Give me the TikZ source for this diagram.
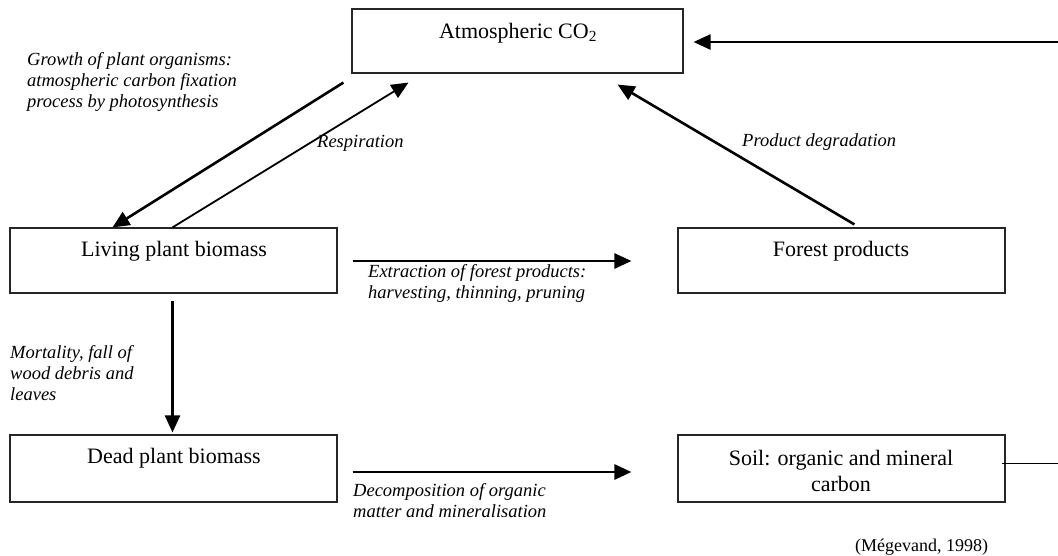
\documentclass[tikz,border=0pt]{standalone}
\usepackage{fontspec}
\setmainfont{Liberation Serif}
\usetikzlibrary{arrows.meta,calc}
\tikzset{
  box/.style={draw=black!85, line width=1.1pt, rectangle, inner sep=0pt},
  boxtxt/.style={font=\fontsize{22}{26}\selectfont, inner sep=0pt, align=center},
  lbl/.style={font=\fontsize{18.5}{21}\selectfont\itshape, inner sep=0pt, align=left, anchor=west},
  flow/.style={line width=2.6pt, -{Triangle[length=17pt,width=15pt]}},
  thinflow/.style={line width=1.8pt, -{Triangle[length=17pt,width=15pt]}},
}
\begin{document}
\begin{tikzpicture}[x=1pt,y=-1pt]
\useasboundingbox (0,0) rectangle (1058,556);
% boxes
\node[box, minimum width=331pt, minimum height=64pt] (atm) at (517.5,41) {};
\node[box, minimum width=327pt, minimum height=65pt] (living) at (173.5,260.5) {};
\node[box, minimum width=327pt, minimum height=65pt] (forest) at (841.5,260.5) {};
\node[box, minimum width=327pt, minimum height=67pt] (dead) at (173.5,468.5) {};
\node[box, minimum width=327pt, minimum height=67pt] (soil) at (841.5,468.5) {};
% box texts
\node[boxtxt] (atmt) at (518,33) {Atmospheric CO\textsubscript{2}};
\node[boxtxt] (livingt) at (174,251) {Living plant biomass};
\node[boxtxt] (forestt) at (841,251) {Forest products};
\node[boxtxt] (deadt) at (174,458) {Dead plant biomass};
\node[boxtxt] (soilt) at (841,471) {Soil: organic and mineral\\carbon};
% free ends
\coordinate (edgeTop) at (1058,42);
\coordinate (edgeSoil) at (1058,463);
% connectors
\draw[flow] ($(atm.south west)+(-8,9)$) -- ($(living.north west)+(103,0)$);
\draw[thinflow] ($(living.north west)+(163,0)$) -- ($(atm.south west)+(57,9)$);
\draw[flow] ($(forest.north west)+(177,-3)$) -- ($(atm.south east)+(-66,11)$);
\draw[flow] ($(living.east)+(15,0.5)$) -- ($(forest.west)+(-46,0.5)$);
\draw[flow] ($(living.south)+(-1,7)$) -- ($(dead.north)+(-1,-2)$);
\draw[flow] ($(dead.east)+(15,3.5)$) -- ($(soil.west)+(-46,3.5)$);
\draw[flow] (edgeTop) -- ($(atm.east)+(10,1)$);
\draw[line width=1pt] ($(soil.east)+(-4,-5.5)$) -- (edgeSoil);
% labels
\node[lbl] (growthl) at (27,82) {Growth of plant organisms:\\atmospheric carbon fixation\\process by photosynthesis};
\node[lbl] (respl) at (317,143) {Respiration};
\node[lbl] (prodl) at (742,142) {Product degradation};
\node[lbl] (extrl) at (368,283) {Extraction of forest products:\\harvesting, thinning, pruning};
\node[lbl] (mortl) at (10,373) {Mortality, fall of\\wood debris and\\leaves};
\node[lbl] (decl) at (353,501) {Decomposition of organic\\matter and mineralisation};
\node[font=\fontsize{18}{20}\selectfont, inner sep=0pt, anchor=west] (src) at (855,547) {(Mégevand, 1998)};
\end{tikzpicture}
\end{document}
